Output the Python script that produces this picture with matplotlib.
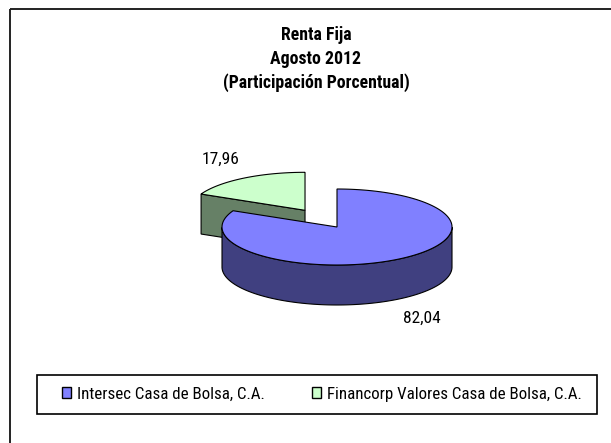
import numpy as np
import matplotlib
matplotlib.use("Agg")
import matplotlib.pyplot as plt
from matplotlib.patches import Polygon, Rectangle, Patch

categories = ["Intersec Casa de Bolsa, C.A.", "Financorp Valores Casa de Bolsa, C.A."]
values = [82.04, 17.96]
value_labels = ["82,04", "17,96"]
colors = ["#8080FF", "#CCFFCC"]
explode = [0.0, 0.52]
title_lines = ["Renta Fija", "Agosto 2012", "(Participación Porcentual)"]

FONT = ["Roboto Condensed", "DejaVu Sans"]

W, H = 611, 443
fig = plt.figure(figsize=(W / 100, H / 100), dpi=100)
ax = fig.add_axes([0, 0, 1, 1])
ax.set_xlim(0, W)
ax.set_ylim(H, 0)
ax.axis("off")

# outer chart frame
ax.add_patch(Rectangle((10, 9), W, H, fill=False, ec="#222222", lw=1.4, zorder=0))

cx, cy, rx, ry, depth = 337, 227, 115, 38, 40


def darker(c):
    rgb = np.array(matplotlib.colors.to_rgb(c))
    return tuple(rgb * 0.5)


total = sum(values)
angles = []
start = 90.0
for v in values:
    end = start - v / total * 360.0
    angles.append((start, end))
    start = end


def pt(ccx, ccy, th):
    t = np.radians(th)
    return ccx + rx * np.cos(t), ccy - ry * np.sin(t)


slices = []
for i, (a0, a1) in enumerate(angles):
    m = np.radians((a0 + a1) / 2)
    ox = explode[i] * rx * np.cos(m)
    oy = -explode[i] * ry * np.sin(m)
    slices.append((i, a0, a1, cx + ox, cy + oy, (a0 + a1) / 2))

# back slices first
order = sorted(slices, key=lambda s: np.sin(np.radians(s[5])), reverse=True)

z = 1
for (i, a0, a1, scx, scy, mid) in order:
    col = colors[i]
    side = darker(col)
    th = np.linspace(a0, a1, 240)
    # radial faces facing the viewer
    for edge, normal in ((a0, a0 + 90), (a1, a1 - 90)):
        if np.sin(np.radians(normal)) < -1e-6:
            ex, ey = pt(scx, scy, edge)
            poly = [(scx, scy), (ex, ey), (ex, ey + depth), (scx, scy + depth)]
            ax.add_patch(Polygon(poly, closed=True, fc=side, ec="black", lw=0.8, zorder=z))
            z += 1
    # outer wall: front half
    ths = th[np.sin(np.radians(th)) <= 0]
    if len(ths) > 1:
        top = [pt(scx, scy, t) for t in ths]
        bot = [(x, y + depth) for (x, y) in top][::-1]
        ax.add_patch(Polygon(top + bot, closed=True, fc=side, ec="black", lw=0.8, zorder=z))
        z += 1
    # top face
    arc = [pt(scx, scy, t) for t in th]
    ax.add_patch(Polygon([(scx, scy)] + arc, closed=True, fc=col, ec="black", lw=0.8, zorder=z))
    z += 1
    # value label
    mr = np.radians(mid)
    lx = scx + rx * 1.38 * np.cos(mr)
    ly = scy - ry * 1.6 * np.sin(mr) + (depth if np.sin(mr) < 0 else 0)
    ax.text(lx, ly, value_labels[i], ha="center", va="center", fontsize=12.5,
            family=FONT, zorder=z)

title_y = [35, 59, 83]
for k, line in enumerate(title_lines):
    ax.text(316, title_y[k], line, ha="center", va="center", fontsize=12.8,
            fontweight="bold", family=FONT)

# legend frame
ax.add_patch(Rectangle((37, 375), 560, 39, fill=False, ec="black", lw=1.2, zorder=0))
handles = [Patch(fc=colors[i], ec="black", lw=1.0) for i in range(len(categories))]
leg = fig.legend(handles, categories, loc="center left", ncol=2,
                 bbox_to_anchor=(62 / W, 1 - 394 / H),
                 frameon=False, prop={"family": FONT, "size": 12.2},
                 handlelength=0.55, handleheight=0.6, handletextpad=0.35,
                 columnspacing=2.75, borderpad=0, borderaxespad=0)

fig.savefig("out.png", dpi=100)
